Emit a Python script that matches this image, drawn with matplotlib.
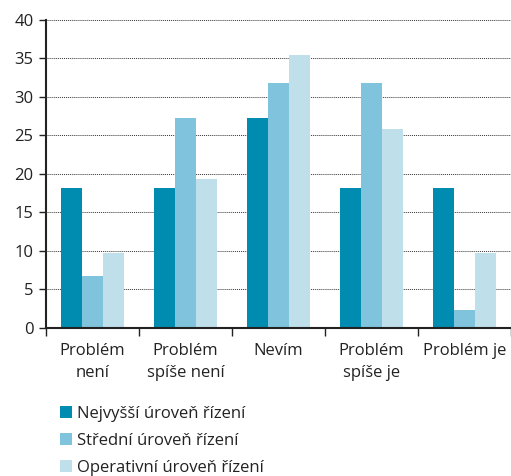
import numpy as np
import matplotlib.pyplot as plt

categories = ["Problém\nnení", "Problém\nspíše není", "Nevím", "Problém\nspíše je", "Problém je"]
series_names = ["Nejvyšší úroveň řízení", "Střední úroveň řízení", "Operativní úroveň řízení"]
nejvyssi = [18.2, 18.2, 27.3, 18.2, 18.2]
stredni = [6.8, 27.3, 31.8, 31.8, 2.3]
operativni = [9.7, 19.4, 35.5, 25.8, 9.7]
colors = ["#008bb0", "#80c3dc", "#bfdfeb"]

plt.rcParams["font.family"] = ["Open Sans", "DejaVu Sans"]

fig = plt.figure(figsize=(5.11, 4.76), dpi=100)
ax = fig.add_axes([0.09, 0.311, 0.91, 0.647])

x = np.arange(len(categories))
w = 0.226
for i, vals in enumerate([nejvyssi, stredni, operativni]):
    ax.bar(x + (i - 1) * w, vals, width=w, color=colors[i], label=series_names[i], zorder=2)

ax.set_xlim(-0.5, len(categories) - 0.5)
ax.set_ylim(0, 40)
ax.set_yticks(range(0, 41, 5))
ax.yaxis.grid(True, linestyle=(0, (1, 1)), color="#333333", linewidth=0.7, zorder=0)
ax.set_axisbelow(True)

ax.set_xticks(np.arange(-0.5, len(categories), 1.0))
ax.set_xticklabels([])
ax.set_xticks(x, minor=True)
ax.set_xticklabels(categories, minor=True, fontsize=12, color="#222222", linespacing=1.5)
ax.tick_params(axis="x", which="minor", length=0, pad=11)
ax.tick_params(axis="x", which="major", length=6, width=1, color="#222222")
ax.tick_params(axis="y", length=5, width=1, color="#222222", labelsize=12, labelcolor="#222222", pad=4)

for s in ["top", "right"]:
    ax.spines[s].set_visible(False)
for s in ["left", "bottom"]:
    ax.spines[s].set_linewidth(1.5)
    ax.spines[s].set_color("#222222")

leg = fig.legend(loc="upper left", bbox_to_anchor=(0.117, 0.147), frameon=False,
                 fontsize=12, handlelength=0.75, handleheight=0.75, handletextpad=0.3,
                 labelspacing=0.65, borderaxespad=0, borderpad=0)
for t in leg.get_texts():
    t.set_color("#222222")

fig.savefig("out.png", dpi=100)
